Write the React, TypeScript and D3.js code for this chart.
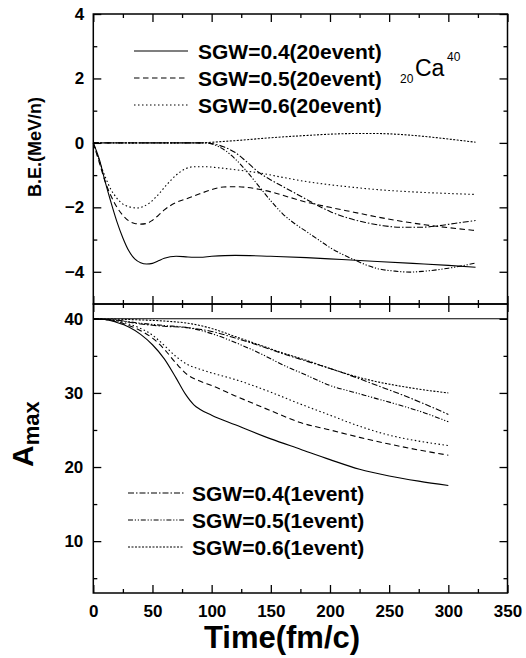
import React, { useEffect, useRef } from 'react';
import * as d3 from 'd3';

// time (fm/c) ticks
const xTicks = [0, 50, 100, 150, 200, 250, 300, 350];
const xMinor = [25, 75, 125, 175, 225, 275, 325];
const beTicks = [-4, -2, 0, 2, 4];
const beMinor = [-3, -1, 1, 3];
const amaxTicks = [10, 20, 30, 40];
const amaxMinor = [5, 15, 25, 35];

// B.E. (MeV/n), 20 events
const be04ev20 = [[0, 0], [5, -0.5], [10, -1.2], [15, -1.85], [20, -2.45], [25, -2.95], [30, -3.35], [35, -3.6], [40, -3.72], [45, -3.76], [50, -3.74], [55, -3.66], [60, -3.58], [70, -3.52], [80, -3.54], [90, -3.55], [100, -3.52], [120, -3.49], [150, -3.52], [180, -3.56], [210, -3.62], [240, -3.68], [270, -3.74], [300, -3.8], [323, -3.86]];
const be05ev20 = [[0, 0], [5, -0.6], [10, -1.2], [15, -1.65], [20, -2.0], [25, -2.25], [30, -2.42], [35, -2.5], [40, -2.52], [45, -2.5], [50, -2.4], [55, -2.25], [60, -2.08], [70, -1.85], [80, -1.72], [90, -1.58], [100, -1.45], [110, -1.37], [120, -1.36], [130, -1.38], [140, -1.44], [150, -1.52], [165, -1.68], [180, -1.84], [200, -2.0], [220, -2.15], [240, -2.3], [260, -2.43], [280, -2.54], [300, -2.63], [323, -2.72]];
const be06ev20 = [[0, 0], [5, -0.55], [10, -1.05], [15, -1.45], [20, -1.72], [25, -1.9], [30, -1.98], [37, -2.02], [42, -1.98], [48, -1.85], [55, -1.6], [62, -1.3], [70, -1.0], [78, -0.8], [85, -0.74], [95, -0.74], [105, -0.77], [115, -0.81], [130, -0.88], [140, -0.93], [160, -1.07], [180, -1.2], [200, -1.3], [220, -1.38], [240, -1.45], [260, -1.5], [280, -1.54], [300, -1.57], [323, -1.6]];

// B.E. (MeV/n), 1 event
const be04ev1 = [[0, 0], [50, 0], [95, 0], [100, -0.02], [110, -0.12], [120, -0.3], [130, -0.6], [140, -0.92], [150, -1.15], [160, -1.35], [170, -1.55], [180, -1.75], [190, -1.95], [200, -2.13], [215, -2.33], [230, -2.47], [245, -2.57], [260, -2.62], [275, -2.62], [290, -2.58], [305, -2.5], [323, -2.41]];
const be05ev1 = [[0, 0], [50, 0], [95, 0], [100, -0.03], [110, -0.2], [120, -0.5], [130, -0.9], [140, -1.35], [150, -1.8], [160, -2.2], [170, -2.5], [180, -2.75], [190, -3.0], [200, -3.25], [210, -3.45], [220, -3.62], [230, -3.78], [240, -3.9], [255, -3.98], [268, -4.01], [280, -3.98], [300, -3.89], [323, -3.73]];
const be06ev1 = [[0, 0], [50, 0], [90, 0], [100, 0.02], [120, 0.07], [150, 0.16], [180, 0.23], [200, 0.27], [220, 0.29], [240, 0.29], [260, 0.26], [280, 0.2], [300, 0.12], [323, 0.02]];

// Amax, 20 events
const am04ev20 = [[0, 40], [10, 39.9], [20, 39.5], [30, 38.9], [40, 37.9], [50, 36.5], [60, 34.6], [70, 32.0], [78, 29.8], [85, 28.4], [90, 27.8], [100, 27.0], [120, 25.7], [150, 23.8], [175, 22.4], [200, 21.0], [225, 19.7], [250, 18.8], [275, 18.1], [300, 17.5]];
const am05ev20 = [[0, 40], [10, 39.9], [20, 39.6], [30, 39.1], [40, 38.4], [50, 37.4], [60, 35.9], [70, 34.0], [80, 32.4], [90, 31.6], [100, 31.0], [120, 29.6], [150, 27.6], [175, 26.0], [200, 25.0], [225, 24.0], [250, 23.1], [275, 22.3], [300, 21.6]];
const am06ev20 = [[0, 40], [10, 39.9], [20, 39.7], [30, 39.3], [40, 38.7], [50, 37.8], [60, 36.4], [70, 34.9], [80, 33.8], [90, 33.2], [100, 32.7], [120, 31.8], [150, 30.1], [175, 28.5], [200, 27.0], [225, 25.5], [250, 24.3], [275, 23.5], [300, 22.9]];

// Amax, 1 event
const am04ev1 = [[0, 40], [20, 39.8], [40, 39.3], [60, 39.0], [80, 38.8], [100, 38.3], [120, 37.4], [140, 36.4], [160, 35.3], [180, 34.3], [200, 33.3], [220, 32.2], [240, 31.0], [260, 29.8], [280, 28.5], [300, 27.1]];
const am05ev1 = [[0, 40], [20, 39.8], [40, 39.4], [60, 39.1], [80, 38.8], [100, 38.0], [120, 36.8], [140, 35.4], [160, 33.8], [180, 32.4], [200, 31.0], [220, 30.1], [240, 29.2], [260, 28.3], [280, 27.3], [300, 26.1]];
const am06ev1 = [[0, 40], [20, 39.95], [40, 39.85], [60, 39.7], [80, 39.4], [100, 38.7], [120, 37.6], [140, 36.5], [160, 35.4], [180, 34.4], [200, 33.3], [220, 32.3], [240, 31.5], [260, 30.9], [280, 30.4], [300, 30.0]];

const amaxStart = 40;

const legendTop = ['SGW=0.4(20event)', 'SGW=0.5(20event)', 'SGW=0.6(20event)'];
const legendBottom = ['SGW=0.4(1event)', 'SGW=0.5(1event)', 'SGW=0.6(1event)'];

const SOLID = null;
const DASH = '5.5,3.5';
const DOT = '1.5,2.5';
const DASHDOT = '6,2,1.5,2';
const DASHDOTDOT = '5,1.8,1.2,1.8,1.2,1.8';
const SHORTDASH = '2,1.5';

const FONT = '"Liberation Sans", Arial, Helvetica, sans-serif';

export default function App() {
  const ref = useRef<SVGSVGElement>(null);

  useEffect(() => {
    const svg = d3.select(ref.current);
    svg.selectAll('*').remove();

    const x = d3.scaleLinear().domain([0, 350]).range([93.3, 507.5]);
    const yTop = d3.scaleLinear().domain([-5, 4]).range([304, 14]);
    const yBot = d3.scaleLinear().domain([3, 42]).range([593, 304]);

    const styleAxis = (g, labels) => {
      g.select('.domain').remove();
      g.selectAll('line').attr('stroke', '#000').attr('stroke-width', 1.3);
      g.selectAll('text')
        .attr('font-family', FONT)
        .attr('font-weight', 'bold')
        .attr('font-size', 17)
        .attr('fill', '#000');
      if (!labels) g.selectAll('text').remove();
    };

    const addAxis = (axis, tx, ty, labels = false) => {
      const g = svg.append('g').attr('transform', `translate(${tx},${ty})`).call(axis);
      styleAxis(g, labels);
    };

    const [x0, x1] = x.range();

    // top panel axes
    addAxis(d3.axisLeft(yTop).tickValues(beTicks).tickSize(-8).tickPadding(9), x0, 0, true);
    addAxis(d3.axisLeft(yTop).tickValues(beMinor).tickSize(-4), x0, 0);
    addAxis(d3.axisRight(yTop).tickValues(beTicks).tickSize(-8), x1, 0);
    addAxis(d3.axisRight(yTop).tickValues(beMinor).tickSize(-4), x1, 0);
    addAxis(d3.axisTop(x).tickValues(xTicks).tickSize(-8), 0, yTop(4));
    addAxis(d3.axisTop(x).tickValues(xMinor).tickSize(-4), 0, yTop(4));
    addAxis(d3.axisBottom(x).tickValues(xTicks).tickSize(-8), 0, yTop(-5));
    addAxis(d3.axisBottom(x).tickValues(xMinor).tickSize(-4), 0, yTop(-5));

    // bottom panel axes
    addAxis(d3.axisLeft(yBot).tickValues(amaxTicks).tickSize(-8).tickPadding(10), x0, 0, true);
    addAxis(d3.axisLeft(yBot).tickValues(amaxMinor).tickSize(-4), x0, 0);
    addAxis(d3.axisRight(yBot).tickValues(amaxTicks).tickSize(-8), x1, 0);
    addAxis(d3.axisRight(yBot).tickValues(amaxMinor).tickSize(-4), x1, 0);
    addAxis(d3.axisTop(x).tickValues(xTicks).tickSize(-8), 0, yBot(42));
    addAxis(d3.axisTop(x).tickValues(xMinor).tickSize(-4), 0, yBot(42));
    addAxis(d3.axisBottom(x).tickValues(xTicks).tickSize(-8).tickPadding(12), 0, yBot(3), true);
    addAxis(d3.axisBottom(x).tickValues(xMinor).tickSize(-4), 0, yBot(3));

    // frames
    svg.append('rect')
      .attr('x', x0).attr('y', yTop(4))
      .attr('width', x1 - x0).attr('height', yTop(-5) - yTop(4))
      .attr('fill', 'none').attr('stroke', '#000').attr('stroke-width', 1.5);
    svg.append('rect')
      .attr('x', x0).attr('y', yBot(42))
      .attr('width', x1 - x0).attr('height', yBot(3) - yBot(42))
      .attr('fill', 'none').attr('stroke', '#000').attr('stroke-width', 1.5);

    const drawLine = (data, y, dash) => {
      const line = d3.line()
        .x(d => x(d[0]))
        .y(d => y(d[1]))
        .curve(d3.curveMonotoneX);
      svg.append('path')
        .attr('d', line(data))
        .attr('fill', 'none')
        .attr('stroke', '#000')
        .attr('stroke-width', 1.1)
        .attr('stroke-dasharray', dash);
    };

    // top panel curves
    drawLine(be04ev20, yTop, SOLID);
    drawLine(be05ev20, yTop, DASH);
    drawLine(be06ev20, yTop, DOT);
    drawLine(be04ev1, yTop, DASHDOT);
    drawLine(be05ev1, yTop, DASHDOTDOT);
    drawLine(be06ev1, yTop, SHORTDASH);

    // bottom panel curves
    svg.append('line')
      .attr('x1', x0).attr('x2', x1)
      .attr('y1', yBot(amaxStart)).attr('y2', yBot(amaxStart))
      .attr('stroke', '#000').attr('stroke-width', 1.1);
    drawLine(am04ev20, yBot, SOLID);
    drawLine(am05ev20, yBot, DASH);
    drawLine(am06ev20, yBot, DOT);
    drawLine(am04ev1, yBot, DASHDOT);
    drawLine(am05ev1, yBot, DASHDOTDOT);
    drawLine(am06ev1, yBot, SHORTDASH);

    // legends
    const topDash = [SOLID, DASH, DOT];
    legendTop.forEach((label, i) => {
      const cy = 51 + i * 27;
      svg.append('line')
        .attr('x1', 134).attr('x2', 188).attr('y1', cy).attr('y2', cy)
        .attr('stroke', '#000').attr('stroke-width', 1.1).attr('stroke-dasharray', topDash[i]);
      svg.append('text')
        .attr('x', 198).attr('y', cy + 7.5)
        .attr('font-family', FONT).attr('font-weight', 'bold').attr('font-size', 21)
        .text(label);
    });
    const botDash = [DASHDOT, DASHDOTDOT, SHORTDASH];
    legendBottom.forEach((label, i) => {
      const cy = 493 + i * 27;
      svg.append('line')
        .attr('x1', 128).attr('x2', 184).attr('y1', cy).attr('y2', cy)
        .attr('stroke', '#000').attr('stroke-width', 1.1).attr('stroke-dasharray', botDash[i]);
      svg.append('text')
        .attr('x', 192).attr('y', cy + 7.5)
        .attr('font-family', FONT).attr('font-weight', 'bold').attr('font-size', 21)
        .text(label);
    });

    // nucleus label
    const nuc = svg.append('g').attr('font-family', FONT).attr('fill', '#000');
    nuc.append('text').attr('x', 400).attr('y', 83).attr('font-size', 12).text('20');
    nuc.append('text').attr('x', 415).attr('y', 76).attr('font-size', 23).text('Ca');
    nuc.append('text').attr('x', 447).attr('y', 61).attr('font-size', 12).text('40');

    // axis titles
    svg.append('text')
      .attr('transform', 'translate(41,147) rotate(-90)')
      .attr('text-anchor', 'middle')
      .attr('font-family', FONT).attr('font-weight', 'bold').attr('font-size', 18)
      .text('B.E.(MeV/n)');

    const am = svg.append('text')
      .attr('transform', 'translate(33,467) rotate(-90)')
      .attr('font-family', FONT).attr('font-weight', 'bold');
    am.append('tspan').attr('font-size', 30).text('A');
    am.append('tspan').attr('font-size', 22).attr('dy', 6).text('max');

    svg.append('text')
      .attr('x', 282).attr('y', 648)
      .attr('text-anchor', 'middle')
      .attr('font-family', FONT).attr('font-weight', 'bold').attr('font-size', 31)
      .text('Time(fm/c)');
  }, []);

  return (
    <svg
      ref={ref}
      width={526}
      height={658}
      style={{ position: 'absolute', left: 0, top: 0, background: '#fff' }}
    />
  );
}
